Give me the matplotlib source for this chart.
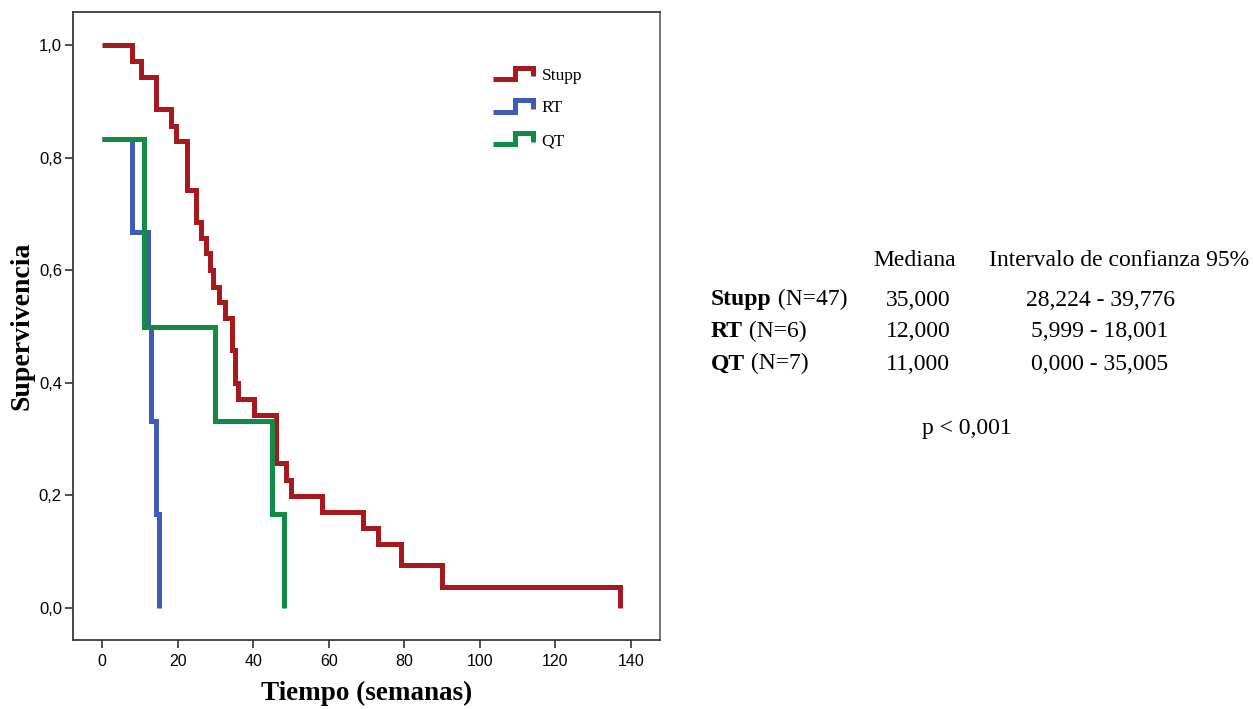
import numpy as np
import matplotlib
matplotlib.use("Agg")
import matplotlib.pyplot as plt
from matplotlib.lines import Line2D
from matplotlib.legend_handler import HandlerBase

# Kaplan-Meier steps (time in weeks, survival after the step)
stupp_t = [0, 8.0, 10.2, 14.3, 18.2, 19.6, 22.4, 25.0, 26.1, 27.5, 28.6, 29.3, 31.0,
           32.5, 34.3, 35.2, 36.1, 40.3, 46.0, 48.7, 49.9, 58.1, 69.1, 73.1, 79.0,
           90.1, 137.0]
stupp_s = [1.0, 0.972, 0.944, 0.886, 0.856, 0.830, 0.742, 0.686, 0.657, 0.630, 0.600,
           0.570, 0.544, 0.515, 0.458, 0.400, 0.371, 0.343, 0.257, 0.227, 0.199, 0.170,
           0.142, 0.113, 0.076, 0.037, 0.0]
rt_t = [0, 8.0, 12.3, 13.0, 14.2, 15.2]
rt_s = [0.833, 0.667, 0.500, 0.333, 0.167, 0.0]
qt_t = [0, 11.1, 29.8, 44.9, 48.1]
qt_s = [0.833, 0.500, 0.333, 0.167, 0.0]

groups = ["Stupp", "RT", "QT"]
colors = ["#A6191E", "#3E5BB5", "#138B47"]

x_ticks = [0, 20, 40, 60, 80, 100, 120, 140]
y_ticks = [0.0, 0.2, 0.4, 0.6, 0.8, 1.0]

# table on the right
col_heads = ["Mediana", "Intervalo de confianza 95%"]
row_names = ["Stupp", "RT", "QT"]
row_n = [" (N=47)", " (N=6)", " (N=7)"]
medians = ["35,000", "12,000", "11,000"]
cis = ["28,224 - 39,776", "5,999 - 18,001", "0,000 - 35,005"]
p_text = "p < 0,001"

serif = "Liberation Serif"
sans = "Liberation Sans"


class StepHandler(HandlerBase):
    # little step glyph like the SPSS legend
    def create_artists(self, legend, orig_handle, xdescent, ydescent, width, height, fontsize, trans):
        xs = np.array([0, 0.55, 0.55, 1.0, 1.0]) * width - xdescent
        ys = np.array([0.1, 0.1, 0.95, 0.95, 0.3]) * height - ydescent
        ln = Line2D(xs, ys, color=orig_handle.get_color(), lw=orig_handle.get_linewidth(),
                    solid_joinstyle="miter", solid_capstyle="butt")
        ln.set_transform(trans)
        return [ln]


W, H = 1253, 709
fig = plt.figure(figsize=(W / 100, H / 100), dpi=100)
ax = fig.add_axes([73 / W, 1 - 640 / H, (660 - 73) / W, (640 - 12) / H])

handles = []
for t, s, c in zip([stupp_t, rt_t, qt_t], [stupp_s, rt_s, qt_s], colors):
    h, = ax.step(t, s, where="post", color=c, lw=3.6, solid_joinstyle="miter",
                 solid_capstyle="butt")
    handles.append(h)

px = 529 / 140  # pixels per week
ax.set_xlim(-(102 - 73) / px, (660 - 102) / px)
ax.set_ylim(-(640 - 608) / 563, 1 + (45 - 12) / 563)

ax.set_xticks(x_ticks)
ax.set_xticklabels([str(v) for v in x_ticks], fontfamily=sans, fontsize=11.5)
ax.set_yticks(y_ticks)
ax.set_yticklabels([f"{v:.1f}".replace(".", ",") for v in y_ticks], fontfamily=sans, fontsize=12)
ax.tick_params(direction="out", length=6, width=1.2, color="#333333")
ax.tick_params(axis="x", pad=4)
ax.tick_params(axis="y", pad=2)

for sp in ax.spines.values():
    sp.set_color("#3a3a3a")
    sp.set_linewidth(1.3)
ax.spines["right"].set_color("#6a6a6a")

ax.set_xlabel("Tiempo (semanas)", fontfamily=serif, fontweight="bold", fontsize=19.5)
ax.xaxis.set_label_coords(0.5, (640 - 681) / 628)
ax.set_ylabel("Supervivencia", fontfamily=serif, fontweight="bold", fontsize=20)
ax.yaxis.set_label_coords((34 - 73) / 587, 0.5)

ax.legend(handles, groups, handler_map={Line2D: StepHandler()}, frameon=False,
          loc="center left", bbox_to_anchor=((493 - 73) / 587, (640 - 108) / 628),
          borderaxespad=0, borderpad=0, handlelength=2.3, handleheight=0.8,
          handletextpad=0.5, labelspacing=0.93,
          prop={"family": serif, "size": 12.5})

# statistics table
def fx(p):
    return p / W

def fy(p):
    return 1 - p / H

fs = 17
fig.text(fx(915), fy(260), col_heads[0], ha="center", va="center", fontfamily=serif, fontsize=fs)
fig.text(fx(1119), fy(260), col_heads[1], ha="center", va="center", fontfamily=serif, fontsize=fs)
for i, yy in enumerate([300, 332, 364]):
    t = fig.text(fx(711), fy(yy), row_names[i], ha="left", va="center",
                 fontfamily=serif, fontweight="bold", fontsize=fs)
    ax.annotate(row_n[i], xy=(1, 0), xycoords=t, ha="left", va="bottom",
                fontfamily=serif, fontsize=fs, annotation_clip=False)
    fig.text(fx(918), fy(yy), medians[i], ha="center", va="center", fontfamily=serif, fontsize=fs)
    fig.text(fx(1100), fy(yy), cis[i], ha="center", va="center", fontfamily=serif, fontsize=fs)
fig.text(fx(967), fy(429), p_text, ha="center", va="center", fontfamily=serif, fontsize=fs)

fig.savefig("out.png", dpi=100)
